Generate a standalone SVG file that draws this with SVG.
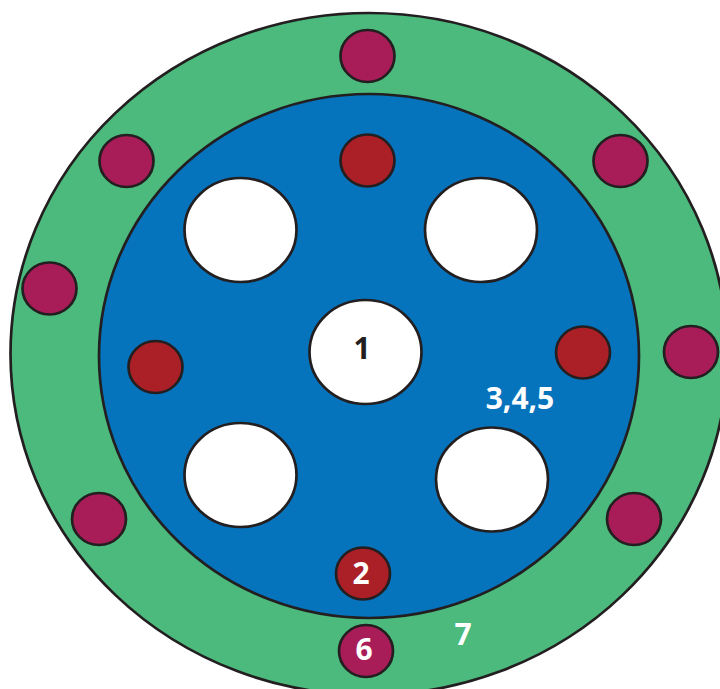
<svg xmlns="http://www.w3.org/2000/svg" width="720" height="689" viewBox="0 0 720 689">
<style>
.s{stroke:#231f20;stroke-width:2.7}
.g{fill:#4bba7c}.b{fill:#0673bd}.w{fill:#fff}.r{fill:#ab1f27}.m{fill:#a81d58}
text{font-family:"Open Sans","Noto Sans","Liberation Sans",sans-serif;font-weight:700;font-size:30px;text-anchor:middle}
.lt{fill:#fff}.dk{fill:#231f20}
</style>
<rect width="720" height="689" fill="#fff"/>
<g id="outer-ring"><ellipse class="s g" cx="369" cy="354" rx="358.500" ry="341"/></g>
<g id="inner-disc"><ellipse class="s b" cx="369" cy="356" rx="270" ry="262"/></g>
<g id="hole-center"><ellipse class="s w" cx="365.500" cy="352" rx="56" ry="52"/><text class="dk" x="362" y="359">1</text></g>
<g id="hole-tl"><ellipse class="s w" cx="240.500" cy="230" rx="56" ry="52"/></g>
<g id="hole-tr"><ellipse class="s w" cx="481" cy="230" rx="56" ry="52"/></g>
<g id="hole-bl"><ellipse class="s w" cx="240.500" cy="475" rx="56" ry="52"/></g>
<g id="hole-br"><ellipse class="s w" cx="492" cy="479.500" rx="56" ry="52"/></g>
<g id="red-top"><ellipse class="s r" cx="367.500" cy="160.500" rx="27" ry="26"/></g>
<g id="red-left"><ellipse class="s r" cx="155.500" cy="367" rx="27" ry="26"/></g>
<g id="red-right"><ellipse class="s r" cx="583" cy="352.500" rx="27" ry="26"/></g>
<g id="red-bottom"><ellipse class="s r" cx="363" cy="573.500" rx="27" ry="26"/><text class="lt" x="361" y="584">2</text></g>
<g id="mag-top"><ellipse class="s m" cx="367.500" cy="56" rx="27" ry="26"/></g>
<g id="mag-tl"><ellipse class="s m" cx="126.500" cy="161" rx="27" ry="26"/></g>
<g id="mag-tr"><ellipse class="s m" cx="620.500" cy="161" rx="27" ry="26"/></g>
<g id="mag-l"><ellipse class="s m" cx="49.500" cy="288.500" rx="27" ry="26"/></g>
<g id="mag-r"><ellipse class="s m" cx="691" cy="352" rx="27" ry="26"/></g>
<g id="mag-bl"><ellipse class="s m" cx="99" cy="519" rx="27" ry="26"/></g>
<g id="mag-br"><ellipse class="s m" cx="634" cy="519" rx="27" ry="26"/></g>
<g id="mag-bottom"><ellipse class="s m" cx="366" cy="651" rx="27" ry="26"/><text class="lt" x="364" y="660">6</text></g>
<g id="labels"><text class="lt" x="520" y="409">3,4,5</text><text class="lt" x="463" y="645">7</text></g>
<g id="connectors"/>
</svg>
